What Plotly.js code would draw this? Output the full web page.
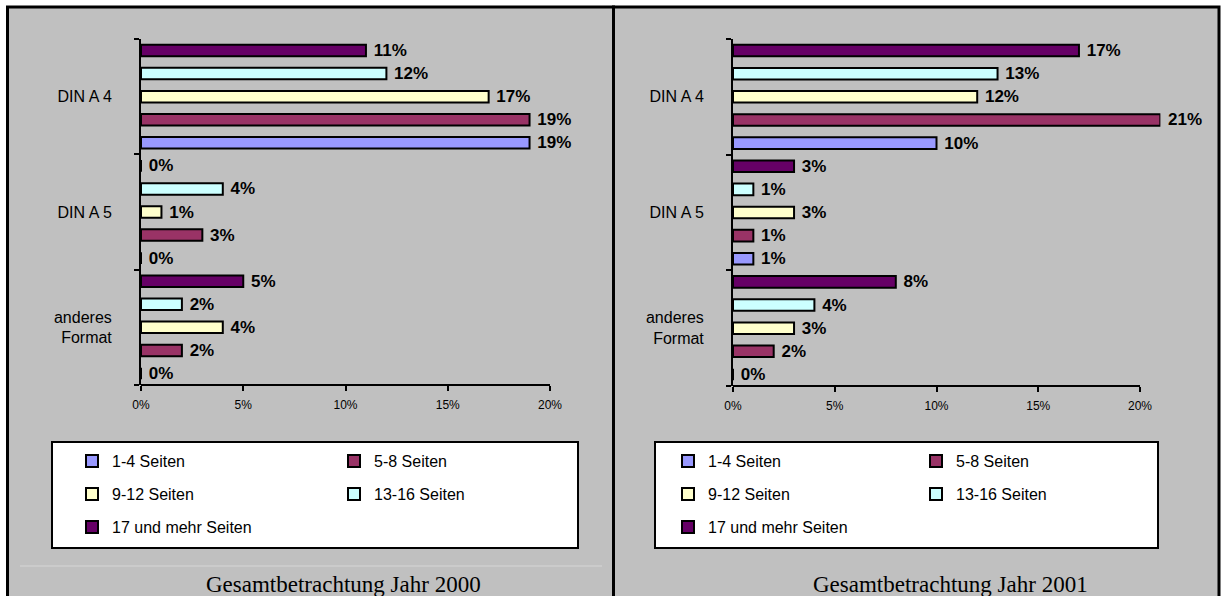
<!DOCTYPE html>
<html>
<head>
<meta charset="utf-8">
<script src="https://cdn.plot.ly/plotly-3.0.1.min.js"></script>
<style>
  html, body { margin: 0; padding: 0; background: #ffffff; overflow: hidden; }
  #chart { width: 1224px; height: 596px; }
</style>
</head>
<body>
<div id="chart"></div>
<script>
// Paper formats (y categories, top to bottom) and their axis labels
const formats = ['DIN A 4', 'DIN A 5', 'anderes Format'];
const formatLabels = ['DIN A 4', 'DIN A 5', 'anderes<br>Format'];

// Page-count groups
const seriesNames = ['1-4 Seiten', '5-8 Seiten', '9-12 Seiten', '13-16 Seiten', '17 und mehr Seiten'];
const seriesColors = ['#9999ff', '#993366', '#ffffcc', '#ccffff', '#660066'];

// Shares in percent per format (DIN A 4, DIN A 5, anderes Format) - year 2000
const y2000_s1_4   = [19, 0, 0];
const y2000_s5_8   = [19, 3, 2];
const y2000_s9_12  = [17, 1, 4];
const y2000_s13_16 = [12, 4, 2];
const y2000_s17    = [11, 0, 5];

// Shares in percent per format - year 2001
const y2001_s1_4   = [10, 1, 0];
const y2001_s5_8   = [21, 1, 2];
const y2001_s9_12  = [12, 3, 3];
const y2001_s13_16 = [13, 1, 4];
const y2001_s17    = [17, 3, 8];

// Value axis
const xTickVals = [0, 5, 10, 15, 20];
const xTickLabels = ['0%', '5%', '10%', '15%', '20%'];
const xAxisMax = 20;

const panelTitles = ['Gesamtbetrachtung Jahr 2000', 'Gesamtbetrachtung Jahr 2001'];

const years = [
  [y2000_s1_4, y2000_s5_8, y2000_s9_12, y2000_s13_16, y2000_s17],
  [y2001_s1_4, y2001_s5_8, y2001_s9_12, y2001_s13_16, y2001_s17]
];

// Page geometry in pixels
const W = 1224, H = 596;
const px = v => v / W;
const py = v => 1 - v / H;

// plot: [x of 0 %, x of 20 %, top, bottom]; legendX / colStep: legend start and column spacing
const panels = [
  { left: 7.5, right: 613.5, plot: [141, 550, 39, 385], box: [52, 578, 442, 548], legendX: 72, colStep: 262, titleX: 343, line: true },
  { left: 613.5, right: 1219, plot: [733, 1140, 39, 386], box: [655, 1158, 442, 548], legendX: 668, colStep: 248, titleX: 950, line: false }
];
const rowY = [461, 494, 527];

const sans = 'Liberation Sans, Arial, sans-serif';
const serif = 'Liberation Serif, Times New Roman, serif';

// category labels in display order (bottom category first)
const catOrder = formatLabels.slice().reverse();

// room on the value axis for bars running past the last tick
const maxValue = Math.max(...years.flat(2));
const rangeMax = Math.max(xAxisMax, maxValue);

const traces = [];
const layout = {
  width: W, height: H,
  margin: { l: 0, r: 0, t: 0, b: 0, autoexpand: false },
  paper_bgcolor: '#ffffff',
  plot_bgcolor: 'rgba(0,0,0,0)',
  barmode: 'group',
  bargap: 0,
  bargroupgap: 0.5,
  showlegend: true,
  shapes: [],
  annotations: [],
  font: { family: sans, color: '#000000' }
};

panels.forEach((p, pi) => {
  const xa = pi === 0 ? 'x' : 'x2';
  const ya = pi === 0 ? 'y' : 'y2';
  const xKey = pi === 0 ? 'xaxis' : 'xaxis2';
  const yKey = pi === 0 ? 'yaxis' : 'yaxis2';
  const pxPerUnit = (p.plot[1] - p.plot[0]) / xAxisMax;
  const domainRight = p.plot[0] + rangeMax * pxPerUnit;

  // grey panel with black frame
  layout.shapes.push({
    type: 'rect', xref: 'paper', yref: 'paper', layer: 'below',
    x0: px(p.left), x1: px(p.right), y0: py(H + 10), y1: py(7),
    fillcolor: '#c0c0c0', line: { color: '#000000', width: 3 }
  });
  // white legend box
  layout.shapes.push({
    type: 'rect', xref: 'paper', yref: 'paper', layer: 'below',
    x0: px(p.box[0]), x1: px(p.box[1]), y0: py(p.box[3]), y1: py(p.box[2]),
    fillcolor: '#ffffff', line: { color: '#000000', width: 2 }
  });
  if (p.line) {
    layout.shapes.push({
      type: 'line', xref: 'paper', yref: 'paper', layer: 'below',
      x0: px(20), x1: px(602), y0: py(566), y1: py(566),
      line: { color: '#d6d6d6', width: 1 }
    });
  }
  // value axis line from 0 % to the last tick
  layout.shapes.push({
    type: 'line', xref: xa, yref: ya + ' domain', layer: 'above',
    x0: 0, x1: xAxisMax, y0: 0, y1: 0,
    line: { color: '#000000', width: 2 }
  });

  layout[xKey] = {
    domain: [px(p.plot[0]), px(domainRight)],
    anchor: ya,
    range: [0, rangeMax],
    tickmode: 'array',
    tickvals: xTickVals,
    ticktext: xTickLabels,
    ticks: 'outside', ticklen: 5, tickwidth: 2, tickcolor: '#000000',
    showline: false,
    showgrid: false, zeroline: false,
    tickfont: { family: sans, size: 12, color: '#000000' },
    ticklabelstandoff: 4,
    fixedrange: true
  };
  layout[yKey] = {
    domain: [py(p.plot[3]), py(p.plot[2])],
    anchor: xa,
    type: 'category',
    categoryorder: 'array',
    categoryarray: catOrder,
    tickson: 'boundaries',
    ticks: 'outside', ticklen: 5, tickwidth: 2, tickcolor: '#000000',
    showline: true, linecolor: '#000000', linewidth: 2,
    showgrid: false, zeroline: false,
    tickfont: { family: sans, size: 16, color: '#000000' },
    ticklabelstandoff: 24,
    fixedrange: true
  };

  // one legend per row, two entries per row
  for (let r = 0; r < 3; r++) {
    const id = pi * 3 + r + 1;
    const key = id === 1 ? 'legend' : 'legend' + id;
    layout[key] = {
      x: px(p.legendX), y: py(rowY[r]),
      xanchor: 'left', yanchor: 'middle',
      orientation: 'h',
      entrywidth: p.colStep - 45, entrywidthmode: 'pixels',
      bgcolor: 'rgba(0,0,0,0)', borderwidth: 0,
      font: { family: sans, size: 16, color: '#000000' },
      itemclick: false, itemdoubleclick: false,
      traceorder: 'normal'
    };
  }

  years[pi].forEach((vals, si) => {
    const row = Math.floor(si / 2);
    const id = pi * 3 + row + 1;
    traces.push({
      type: 'bar',
      orientation: 'h',
      name: seriesNames[si],
      x: vals,
      y: formatLabels,
      xaxis: xa, yaxis: ya,
      legend: id === 1 ? 'legend' : 'legend' + id,
      marker: { color: seriesColors[si], line: { color: '#000000', width: 2 } },
      text: vals.map(v => '\u00a0' + v + '%'),
      textposition: 'outside',
      constraintext: 'none',
      cliponaxis: false,
      textfont: { family: sans, size: 17, color: '#000000', weight: 'bold' },
      hoverinfo: 'skip'
    });
  });

  layout.annotations.push({
    xref: 'paper', yref: 'paper',
    x: px(p.titleX), y: py(584),
    xanchor: 'center', yanchor: 'middle',
    text: panelTitles[pi],
    showarrow: false,
    font: { family: serif, size: 23, color: '#000000' }
  });
});

Plotly.newPlot('chart', traces, layout, { displayModeBar: false, staticPlot: true });
</script>
</body>
</html>
